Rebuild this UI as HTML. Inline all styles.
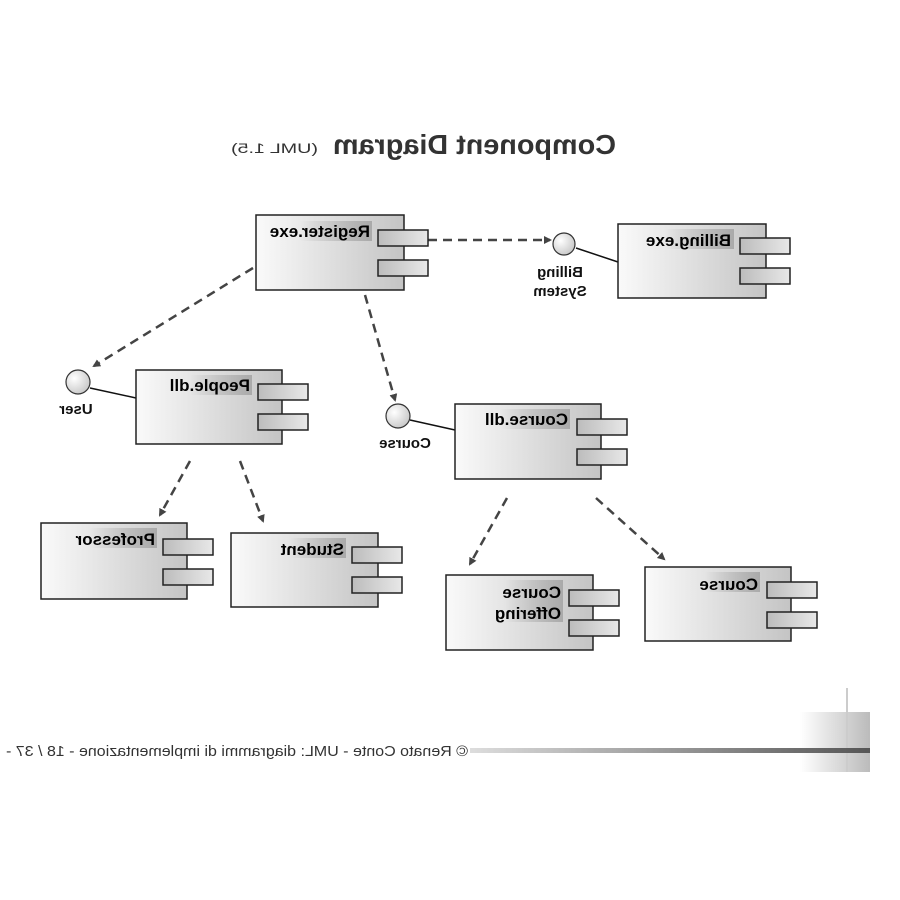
<!DOCTYPE html>
<html><head><meta charset="utf-8"><style>body{margin:0;background:#fff}svg{display:block}</style></head>
<body>
<svg width="900" height="900" viewBox="0 0 900 900" xmlns="http://www.w3.org/2000/svg" font-family="Liberation Sans, sans-serif">
<defs>
<linearGradient id="bx" x1="0" x2="1" y1="0" y2="0"><stop offset="0" stop-color="#fafafa"/><stop offset="1" stop-color="#c4c4c4"/></linearGradient>
<linearGradient id="pt" x1="0" x2="1"><stop offset="0" stop-color="#bcbcbc"/><stop offset="1" stop-color="#e8e8e8"/></linearGradient>
<linearGradient id="hl" x1="0" x2="1"><stop offset="0" stop-color="#aaa" stop-opacity="0"/><stop offset="0.5" stop-color="#aaa" stop-opacity="0.5"/><stop offset="1" stop-color="#aaa"/></linearGradient>
<radialGradient id="ci" cx="0.35" cy="0.35" r="0.7"><stop offset="0" stop-color="#fff"/><stop offset="1" stop-color="#c8c8c8"/></radialGradient>
<linearGradient id="bar" x1="0" x2="1"><stop offset="0" stop-color="#ddd"/><stop offset="1" stop-color="#555"/></linearGradient>
<linearGradient id="sq" x1="0" x2="1"><stop offset="0" stop-color="#fff"/><stop offset="1" stop-color="#bbb"/></linearGradient>
<marker id="ar" markerWidth="8" markerHeight="8" refX="6" refY="4" orient="auto" markerUnits="userSpaceOnUse"><path d="M0,0 L8,4 L0,8 z" fill="#444"/></marker>
</defs>

<text transform="scale(-1,1)" x="-616" y="154" font-size="28" font-weight="bold" fill="#333" textLength="283" lengthAdjust="spacingAndGlyphs">Component Diagram</text>
<text transform="scale(-1,1)" x="-318" y="153" font-size="14" fill="#333" textLength="87" lengthAdjust="spacingAndGlyphs">(UML 1.5)</text>

<g stroke="#444" stroke-width="2.5" stroke-dasharray="9,6" fill="none" marker-end="url(#ar)">
<line x1="428" y1="240" x2="550" y2="240"/>
<line x1="253" y1="268" x2="94" y2="366"/>
<line x1="365" y1="295" x2="395" y2="400"/>
<line x1="190" y1="461" x2="160" y2="515"/>
<line x1="240" y1="461" x2="263" y2="521"/>
<line x1="507" y1="498" x2="470" y2="564"/>
<line x1="596" y1="498" x2="664" y2="559"/>
</g>

<g stroke="#111" stroke-width="1.5">
<line x1="576" y1="248" x2="618" y2="262"/>
<line x1="90" y1="388" x2="136" y2="398"/>
<line x1="410" y1="420" x2="455" y2="430"/>
</g>
<g stroke="#333" stroke-width="1.2" fill="url(#ci)">
<circle cx="564" cy="244" r="11"/>
<circle cx="78" cy="382" r="12"/>
<circle cx="398" cy="416" r="12"/>
</g>
<g font-size="15" font-weight="bold" fill="#111" text-anchor="middle">
<text transform="scale(-1,1)" x="-560" y="277">Billing</text>
<text transform="scale(-1,1)" x="-560" y="296">System</text>
<text transform="scale(-1,1)" x="-76" y="414">User</text>
<text transform="scale(-1,1)" x="-405" y="448">Course</text>
</g>

<g stroke="#222" stroke-width="1.5">
<rect x="256" y="215" width="148" height="75" fill="url(#bx)"/>
<rect x="378" y="230" width="50" height="16" fill="url(#pt)"/><rect x="378" y="260" width="50" height="16" fill="url(#pt)"/>
<rect x="618" y="224" width="148" height="74" fill="url(#bx)"/>
<rect x="740" y="238" width="50" height="16" fill="url(#pt)"/><rect x="740" y="268" width="50" height="16" fill="url(#pt)"/>
<rect x="136" y="370" width="146" height="74" fill="url(#bx)"/>
<rect x="258" y="384" width="50" height="16" fill="url(#pt)"/><rect x="258" y="414" width="50" height="16" fill="url(#pt)"/>
<rect x="455" y="404" width="146" height="75" fill="url(#bx)"/>
<rect x="577" y="419" width="50" height="16" fill="url(#pt)"/><rect x="577" y="449" width="50" height="16" fill="url(#pt)"/>
<rect x="41" y="523" width="146" height="76" fill="url(#bx)"/>
<rect x="163" y="539" width="50" height="16" fill="url(#pt)"/><rect x="163" y="569" width="50" height="16" fill="url(#pt)"/>
<rect x="231" y="533" width="147" height="74" fill="url(#bx)"/>
<rect x="352" y="547" width="50" height="16" fill="url(#pt)"/><rect x="352" y="577" width="50" height="16" fill="url(#pt)"/>
<rect x="446" y="575" width="147" height="75" fill="url(#bx)"/>
<rect x="569" y="590" width="50" height="16" fill="url(#pt)"/><rect x="569" y="620" width="50" height="16" fill="url(#pt)"/>
<rect x="645" y="567" width="146" height="74" fill="url(#bx)"/>
<rect x="767" y="582" width="50" height="16" fill="url(#pt)"/><rect x="767" y="612" width="50" height="16" fill="url(#pt)"/>
</g>
<g fill="url(#hl)">
<rect x="300" y="221" width="72" height="20"/>
<rect x="665" y="229" width="69" height="20"/>
<rect x="190" y="375" width="62" height="20"/>
<rect x="500" y="409" width="70" height="20"/>
<rect x="90" y="528" width="67" height="20"/>
<rect x="290" y="538" width="56" height="20"/>
<rect x="505" y="580" width="58" height="42"/>
<rect x="705" y="572" width="55" height="20"/>
</g>
<g font-size="17" font-weight="bold" fill="#000">
<text transform="scale(-1,1)" x="-370" y="237">Register.exe</text>
<text transform="scale(-1,1)" x="-731" y="246">Billing.exe</text>
<text transform="scale(-1,1)" x="-250" y="391">People.dll</text>
<text transform="scale(-1,1)" x="-568" y="425">Course.dll</text>
<text transform="scale(-1,1)" x="-155" y="545">Professor</text>
<text transform="scale(-1,1)" x="-344" y="555">Student</text>
<text transform="scale(-1,1)" x="-561" y="598">Course</text>
<text transform="scale(-1,1)" x="-561" y="619">Offering</text>
<text transform="scale(-1,1)" x="-758" y="590">Course</text>
</g>

<rect x="800" y="712" width="70" height="60" fill="url(#sq)"/>
<line x1="847" y1="688" x2="847" y2="772" stroke="#ccc" stroke-width="2"/>
<rect x="470" y="748" width="400" height="5" fill="url(#bar)"/>
<text transform="scale(-1,1)" x="-468" y="756" font-size="15" fill="#333" textLength="462" lengthAdjust="spacingAndGlyphs">© Renato Conte - UML: diagrammi di implementazione - 18 / 37 -</text>
</svg>
</body></html>
